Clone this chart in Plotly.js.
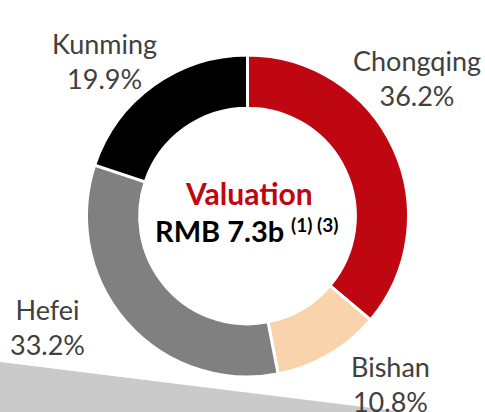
<!DOCTYPE html>
<html>
<head>
<meta charset="utf-8">
<script src="https://cdn.plot.ly/plotly-3.0.1.min.js"></script>
<style>html,body{margin:0;padding:0;background:#fff;}#chart{width:485px;height:412px;}</style>
</head>
<body>
<div id="chart"></div>
<script>
const cities = ["Chongqing", "Bishan", "Hefei", "Kunming"];
const shares = [36.2, 10.8, 33.2, 19.9];
const shareLabels = ["36.2%", "10.8%", "33.2%", "19.9%"];
const colors = ["#BF0711", "#F9D3AB", "#808080", "#000000"];
const centerTitle = "Valuation";
const centerValue = "RMB 7.3b";
const centerNotes = "(1) (3)";

const W = 485, H = 412;
const px = x => x / W;
const py = y => 1 - y / H;

// label positions (pixels, centers)
const labelPos = [[417, 78], [390, 384], [47, 327], [104, 61]];

const annotations = cities.map((c, i) => ({
  text: c + "<br>" + shareLabels[i],
  x: px(labelPos[i][0]), y: py(labelPos[i][1]),
  xref: "paper", yref: "paper", xanchor: "center", yanchor: "middle",
  showarrow: false, align: "center",
  font: {family: "Lato, 'Open Sans', sans-serif", size: 27, color: "#404040"}
}));
annotations.push({
  text: "<b>" + centerTitle + "</b>", x: px(249), y: py(193), xref: "paper", yref: "paper",
  xanchor: "center", yanchor: "middle", showarrow: false,
  font: {family: "Lato, sans-serif", size: 30, color: "#BF0711"}
});
annotations.push({
  text: "<b>" + centerValue + "</b>", x: px(286), y: py(230), xref: "paper", yref: "paper",
  xanchor: "right", yanchor: "middle", showarrow: false,
  font: {family: "Lato, sans-serif", size: 29, color: "#000000"}
});
annotations.push({
  text: "<b>" + centerNotes + "</b>", x: px(289), y: py(224), xref: "paper", yref: "paper",
  xanchor: "left", yanchor: "middle", showarrow: false,
  font: {family: "Lato, sans-serif", size: 19, color: "#000000"}
});

const data = [{
  type: "pie",
  labels: cities,
  values: shares,
  sort: false,
  direction: "clockwise",
  rotation: 0,
  hole: 0.67,
  textinfo: "none",
  hoverinfo: "none",
  marker: {colors: colors, line: {color: "#ffffff", width: 3}},
  domain: {x: [px(247.5 - 161), px(247.5 + 161)], y: [py(216 + 161), py(216 - 161)]},
  showlegend: false
}];

const layout = {
  width: W, height: H,
  margin: {l: 0, r: 0, t: 0, b: 0},
  paper_bgcolor: "#ffffff",
  plot_bgcolor: "#ffffff",
  showlegend: false,
  annotations: annotations,
  shapes: [{
    type: "path", xref: "paper", yref: "paper", layer: "below",
    path: "M0," + py(362) + " L1," + py(422) + " L1," + py(440) + " L0," + py(440) + " Z",
    fillcolor: "#C9CAC9", line: {width: 0}
  }]
};

Plotly.newPlot("chart", data, layout, {staticPlot: true, displayModeBar: false});
</script>
</body>
</html>
